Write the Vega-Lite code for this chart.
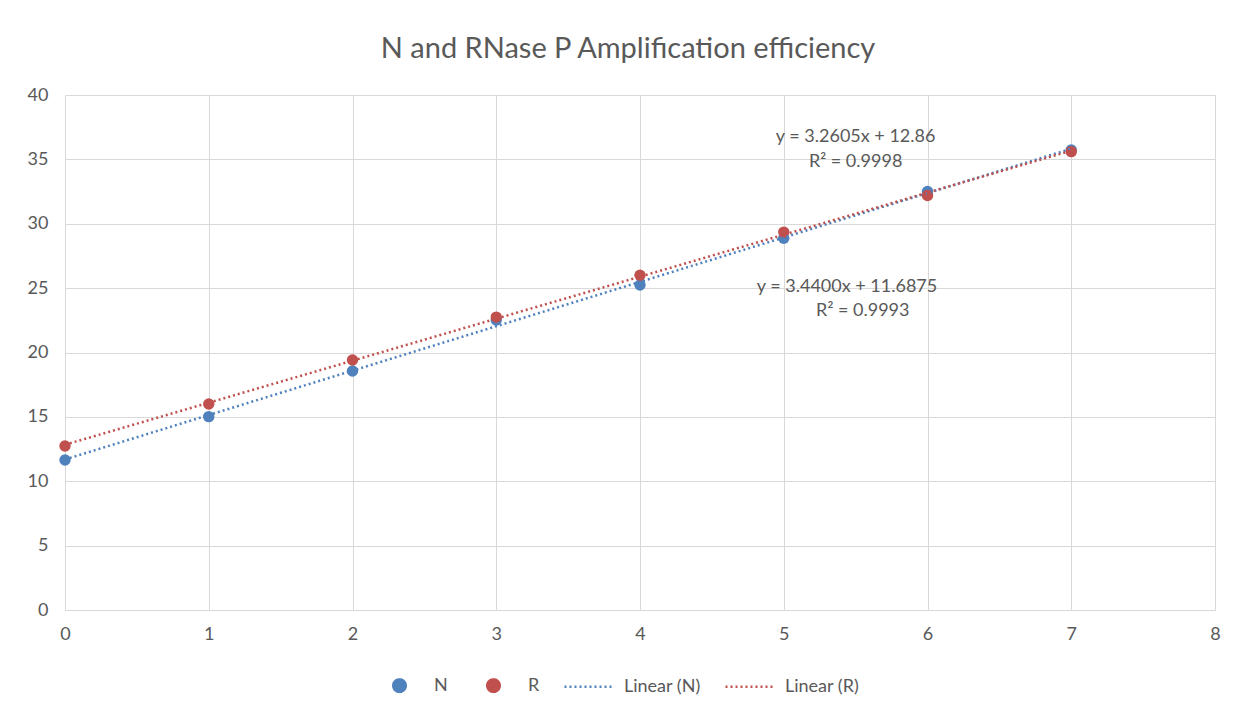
{
  "$schema": "https://vega.github.io/schema/vega-lite/v6.json",
  "width": 1150,
  "height": 515,
  "autosize": "none",
  "padding": {"left": 65, "top": 95, "right": 28, "bottom": 97},
  "background": "white",
  "title": {"text": "N and RNase P Amplification efficiency", "fontSize": 29, "font": "Lato", "fontWeight": "normal", "color": "#595959", "offset": 22, "dx": -12},
  "config": {
    "view": {"stroke": null},
    "axis": {"labelFont": "Lato", "labelFontSize": 18, "labelColor": "#595959", "gridColor": "#d9d9d9", "ticks": false, "domainColor": "#d9d9d9", "title": null}
  },
  "datasets": {
    "pts": [
      {"x": 0, "ct": 11.65, "series": "N", "fit": "Linear (N)"},
      {"x": 1, "ct": 15.02, "series": "N", "fit": "Linear (N)"},
      {"x": 2, "ct": 18.56, "series": "N", "fit": "Linear (N)"},
      {"x": 3, "ct": 22.52, "series": "N", "fit": "Linear (N)"},
      {"x": 4, "ct": 25.24, "series": "N", "fit": "Linear (N)"},
      {"x": 5, "ct": 28.87, "series": "N", "fit": "Linear (N)"},
      {"x": 6, "ct": 32.5, "series": "N", "fit": "Linear (N)"},
      {"x": 7, "ct": 35.73, "series": "N", "fit": "Linear (N)"},
      {"x": 0, "ct": 12.74, "series": "R", "fit": "Linear (R)"},
      {"x": 1, "ct": 16.0, "series": "R", "fit": "Linear (R)"},
      {"x": 2, "ct": 19.42, "series": "R", "fit": "Linear (R)"},
      {"x": 3, "ct": 22.75, "series": "R", "fit": "Linear (R)"},
      {"x": 4, "ct": 26.0, "series": "R", "fit": "Linear (R)"},
      {"x": 5, "ct": 29.35, "series": "R", "fit": "Linear (R)"},
      {"x": 6, "ct": 32.2, "series": "R", "fit": "Linear (R)"},
      {"x": 7, "ct": 35.6, "series": "R", "fit": "Linear (R)"}
    ],
    "eq": [
      {"lx": 5.5, "ly": 36.74, "label": "y = 3.2605x + 12.86"},
      {"lx": 5.5, "ly": 34.8, "label": "R² = 0.9998"},
      {"lx": 5.44, "ly": 25.09, "label": "y = 3.4400x + 11.6875"},
      {"lx": 5.55, "ly": 23.22, "label": "R² = 0.9993"}
    ]
  },
  "layer": [
    {
      "data": {"name": "pts"},
      "mark": {"type": "circle", "size": 130, "opacity": 1},
      "encoding": {
        "x": {"field": "x", "type": "quantitative", "scale": {"domain": [0, 8], "nice": false}, "axis": {"values": [0, 1, 2, 3, 4, 5, 6, 7, 8], "format": "d", "labelFlush": false, "labelPadding": 15, "grid": true}},
        "y": {"field": "ct", "type": "quantitative", "scale": {"domain": [0, 40], "nice": false}, "axis": {"values": [0, 5, 10, 15, 20, 25, 30, 35, 40], "format": "d", "labelFlush": false, "labelPadding": 17, "grid": true, "domain": false}},
        "color": {
          "field": "series",
          "type": "nominal",
          "scale": {"domain": ["N", "R", "Linear (N)", "Linear (R)"], "range": ["#4f81bd", "#c0504d", "#4f81bd", "#c0504d"]},
          "legend": {
            "orient": "none",
            "legendX": 308,
            "legendY": 564,
            "direction": "horizontal",
            "title": null,
            "labelFont": "Lato",
            "labelFontSize": 18,
            "labelColor": "#595959",
            "symbolOpacity": 1,
            "symbolSize": 2500,
            "symbolStrokeWidth": 2.5,
            "columnPadding": 19,
            "labelOffset": 8,
            "encode": {
              "symbols": {
                "update": {
                  "shape": {"signal": "test(/Linear/, datum.value) ? 'M -1 0 L 1 0' : 'M -0.25 0 A 0.25 0.25 0 1 0 0.25 0 A 0.25 0.25 0 1 0 -0.25 0 Z'"},
                  "size": {"value": 2500},
                  "strokeDash": {"signal": "test(/Linear/, datum.value) ? [2, 3] : [1, 0]"},
                  "strokeWidth": {"value": 2.5},
                  "fill": {"signal": "test(/Linear/, datum.value) ? 'transparent' : scale('color', datum.value)"},
                  "stroke": {"signal": "test(/Linear/, datum.value) ? scale('color', datum.value) : 'transparent'"},
                  "opacity": {"value": 1}
                }
              }
            }
          }
        }
      }
    },
    {
      "data": {"name": "pts"},
      "transform": [{"regression": "ct", "on": "x", "groupby": ["fit"], "extent": [0, 7]}],
      "mark": {"type": "line", "strokeWidth": 2.5, "strokeDash": [2, 3]},
      "encoding": {
        "x": {"field": "x", "type": "quantitative"},
        "y": {"field": "ct", "type": "quantitative"},
        "color": {"field": "fit", "type": "nominal"}
      }
    },
    {
      "data": {"name": "eq"},
      "mark": {"type": "text", "font": "Lato", "fontSize": 18, "color": "#595959", "align": "center", "baseline": "middle"},
      "encoding": {
        "x": {"field": "lx", "type": "quantitative"},
        "y": {"field": "ly", "type": "quantitative"},
        "text": {"field": "label", "type": "nominal"}
      }
    }
  ]
}
